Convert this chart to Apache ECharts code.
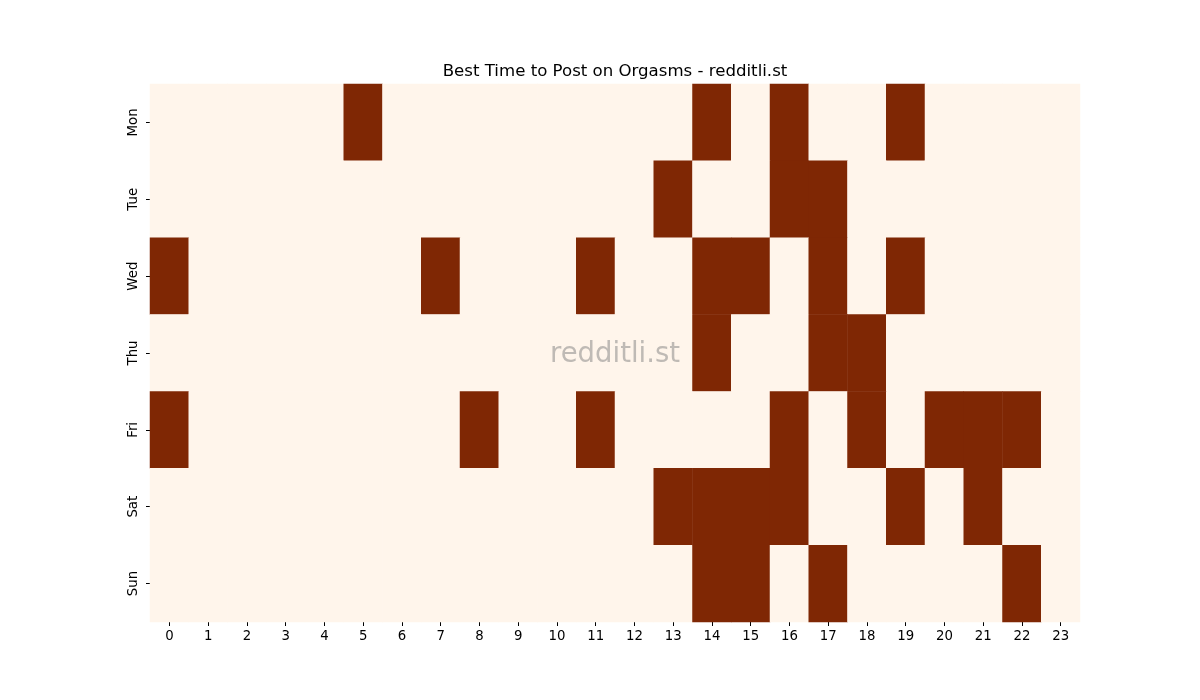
<!DOCTYPE html>
<html>
<head>
<meta charset="utf-8">
<script src="https://cdn.jsdelivr.net/npm/echarts@6/dist/echarts.min.js"></script>
<style>html,body{margin:0;padding:0;background:#fff}#c{width:1200px;height:700px}</style>
</head>
<body>
<div id="c"></div>
<script>
const hours = ['0','1','2','3','4','5','6','7','8','9','10','11','12','13','14','15','16','17','18','19','20','21','22','23'];
const days = ['Mon','Tue','Wed','Thu','Fri','Sat','Sun'];
// 1 = best time (dark), 0 = not
const mon = [0,0,0,0,0,1,0,0,0,0,0,0,0,0,1,0,1,0,0,1,0,0,0,0];
const tue = [0,0,0,0,0,0,0,0,0,0,0,0,0,1,0,0,1,1,0,0,0,0,0,0];
const wed = [1,0,0,0,0,0,0,1,0,0,0,1,0,0,1,1,0,1,0,1,0,0,0,0];
const thu = [0,0,0,0,0,0,0,0,0,0,0,0,0,0,1,0,0,1,1,0,0,0,0,0];
const fri = [1,0,0,0,0,0,0,0,1,0,0,1,0,0,0,0,1,0,1,0,1,1,1,0];
const sat = [0,0,0,0,0,0,0,0,0,0,0,0,0,1,1,1,1,0,0,1,0,1,0,0];
const sun = [0,0,0,0,0,0,0,0,0,0,0,0,0,0,1,1,0,1,0,0,0,0,1,0];
const rows = [mon, tue, wed, thu, fri, sat, sun];

const data = [];
rows.forEach((r, yi) => r.forEach((v, xi) => data.push([xi, yi, v])));

const chart = echarts.init(document.getElementById('c'), null, {renderer: 'canvas'});
const font = 'DejaVu Sans';
chart.setOption({
  backgroundColor: '#ffffff',
  animation: false,
  grid: {left: 150, right: 120, top: 84, bottom: 78},
  xAxis: {
    type: 'category', data: hours, position: 'bottom',
    axisLine: {show: false},
    axisTick: {show: true, alignWithLabel: true, length: 4, lineStyle: {color: '#000'}},
    axisLabel: {fontFamily: font, fontSize: 13.3, color: '#000', margin: 8},
    splitLine: {show: false}
  },
  yAxis: {
    type: 'category', data: days, inverse: true,
    axisLine: {show: false},
    axisTick: {show: true, alignWithLabel: true, length: 4, lineStyle: {color: '#000'}},
    axisLabel: {fontFamily: font, fontSize: 13.3, color: '#000', rotate: 90, margin: 10},
    splitLine: {show: false}
  },
  visualMap: {
    show: false, min: 0, max: 1, dimension: 2,
    inRange: {color: ['#fff5eb', '#7f2704']}
  },
  graphic: [{
    type: 'text', x: 615, y: 71.5,
    style: {text: 'Best Time to Post on Orgasms - redditli.st', fontFamily: font, fontSize: 16.6,
            fill: '#000', textAlign: 'center', textVerticalAlign: 'middle'},
    z: 100
  }, {
    type: 'text', x: 615, y: 355,
    style: {text: 'redditli.st', fontFamily: font, fontSize: 27.5, fill: 'rgba(128,128,128,0.5)',
            textAlign: 'center', textVerticalAlign: 'middle'},
    z: 100
  }],
  series: [{
    type: 'heatmap', data: data,
    itemStyle: {borderWidth: 0},
    emphasis: {disabled: true}
  }]
});
</script>
</body>
</html>
